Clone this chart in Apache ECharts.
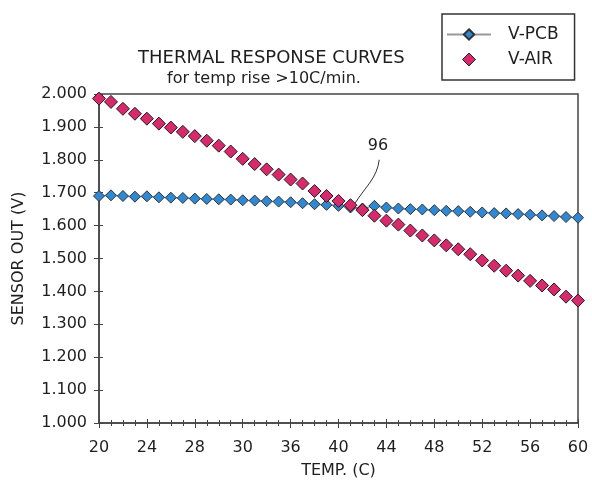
<!DOCTYPE html>
<html>
<head>
<meta charset="utf-8">
<script src="https://cdn.jsdelivr.net/npm/echarts@6/dist/echarts.min.js"></script>
<style>
  html, body { margin: 0; padding: 0; background: #fff; }
  #main { width: 592px; height: 481px; }
</style>
</head>
<body>
<div id="main"></div>
<script>
// temperatures (C), one reading per degree
var temps = [];
for (var t = 20; t <= 60; t++) temps.push(t);

// sensor output (V)
var vPcb = [1.690, 1.692, 1.690, 1.688, 1.689, 1.686, 1.685, 1.684, 1.682, 1.681,
            1.680, 1.679, 1.677, 1.676, 1.674, 1.673, 1.671, 1.668, 1.665, 1.663,
            1.660, 1.655, 1.652, 1.660, 1.655, 1.652, 1.650, 1.649, 1.647, 1.645,
            1.644, 1.642, 1.640, 1.638, 1.637, 1.635, 1.633, 1.631, 1.629, 1.626,
            1.624];
var vAir = [1.986, 1.976, 1.955, 1.940, 1.925, 1.910, 1.898, 1.885, 1.872, 1.858,
            1.843, 1.825, 1.803, 1.787, 1.771, 1.755, 1.740, 1.728, 1.705, 1.690,
            1.675, 1.662, 1.647, 1.630, 1.615, 1.603, 1.585, 1.570, 1.555, 1.540,
            1.528, 1.513, 1.494, 1.478, 1.463, 1.448, 1.432, 1.418, 1.406, 1.384,
            1.372];

// x tick labels as printed (every 4 degrees)
var xTickLabels = ['20', '24', '28', '30', '36', '40', '44', '48', '52', '56', '60'];

function pairs(ys) {
  return temps.map(function (x, i) { return [x, ys[i]]; });
}

var FONT = 'DejaVu Sans, sans-serif';
var INK = '#1e1e1e';
var chart = echarts.init(document.getElementById('main'));

var option = {
  animation: false,
  backgroundColor: '#fff',
  title: [
    { text: 'THERMAL RESPONSE CURVES', left: 133, top: 44,
      textStyle: { fontFamily: FONT, fontSize: 18, fontWeight: 'normal', color: INK } },
    { text: 'for temp rise >10C/min.', left: 162, top: 66,
      textStyle: { fontFamily: FONT, fontSize: 16, fontWeight: 'normal', color: INK } }
  ],
  legend: {
    orient: 'vertical',
    left: 442, top: 14,
    padding: [12, 16, 12, 4],
    itemGap: 8,
    itemWidth: 44, itemHeight: 13,
    borderColor: '#333', borderWidth: 1.5,
    textStyle: { fontFamily: FONT, fontSize: 17, color: INK, padding: [0, 0, 0, 12] },
    data: [
      { name: 'V-PCB' },
      { name: 'V-AIR', icon: 'path://M0,-1L1,0L0,1L-1,0Z',
        itemStyle: { borderColor: '#222', borderWidth: 1 } }
    ]
  },
  grid: {
    left: 99, right: 14, top: 94, bottom: 58,
    outerBoundsMode: 'none', containLabel: false,
    show: true, borderColor: '#444', borderWidth: 1.5
  },
  xAxis: [{
    type: 'value', min: 20, max: 60, interval: 4,
    name: 'TEMP. (C)', nameLocation: 'middle', nameGap: 40,
    nameTextStyle: { fontFamily: FONT, fontSize: 16, color: INK },
    axisLine: { lineStyle: { color: '#444', width: 1.5 } },
    axisTick: { length: 5, lineStyle: { color: '#444' } },
    minorTick: { show: true, splitNumber: 4, length: 3, lineStyle: { color: '#444' } },
    splitLine: { show: false },
    axisLabel: {
      fontFamily: FONT, fontSize: 16, color: INK, margin: 17,
      formatter: function (v) { return xTickLabels[Math.round((v - 20) / 4)]; }
    }
  }, {
    type: 'value', min: 20, max: 60, interval: 4, position: 'bottom',
    axisLine: { show: false },
    axisTick: { inside: true, length: 4, lineStyle: { color: '#444' } },
    minorTick: { show: true, splitNumber: 4, length: 3, lineStyle: { color: '#444' } },
    axisLabel: { show: false }, splitLine: { show: false }
  }],
  yAxis: [{
    type: 'value', min: 1, max: 2, interval: 0.1,
    name: 'SENSOR OUT (V)', nameLocation: 'middle', nameGap: 72,
    nameTextStyle: { fontFamily: FONT, fontSize: 16, color: INK },
    axisLine: { show: true, lineStyle: { color: '#444', width: 1.5 } },
    axisTick: { show: true, length: 5, lineStyle: { color: '#444' } },
    splitLine: { show: false },
    axisLabel: {
      fontFamily: FONT, fontSize: 16, color: INK, margin: 12,
      formatter: function (v) { return v.toFixed(3); }
    }
  }, {
    type: 'value', min: 1, max: 2, interval: 0.1, position: 'left',
    axisLine: { show: false },
    axisTick: { show: true, inside: true, length: 4, lineStyle: { color: '#444' } },
    axisLabel: { show: false }, splitLine: { show: false }
  }],
  series: [
    {
      name: 'V-PCB', type: 'line', data: pairs(vPcb),
      symbol: 'diamond', symbolSize: 11,
      itemStyle: { color: '#2f88d4', borderColor: '#333', borderWidth: 1 },
      lineStyle: { color: '#999', width: 1.5 }
    },
    {
      name: 'V-AIR', type: 'line', data: pairs(vAir),
      symbol: 'diamond', symbolSize: 13,
      itemStyle: { color: '#d62a6c', borderColor: '#2a1a20', borderWidth: 1 },
      lineStyle: { width: 0, opacity: 0 }
    }
  ]
};
chart.setOption(option);

// callout "96" with its leader line, placed in data coordinates
var lbl = chart.convertToPixel({ gridIndex: 0 }, [43.3, 1.842]);
var p0 = chart.convertToPixel({ gridIndex: 0 }, [43.4, 1.800]);
var p1 = chart.convertToPixel({ gridIndex: 0 }, [41.4, 1.669]);
chart.setOption({
  graphic: [
    { type: 'text', x: lbl[0], y: lbl[1],
      style: { text: '96', fontFamily: FONT, fontSize: 16, fill: INK, align: 'center', verticalAlign: 'middle' } },
    { type: 'bezierCurve', z: 100,
      shape: { x1: p0[0], y1: p0[1], x2: p1[0], y2: p1[1],
               cpx1: p0[0] - 2, cpy1: p0[1] + 18, cpx2: p1[0] + 10, cpy2: p1[1] - 16 },
      style: { stroke: '#333', lineWidth: 1, fill: null } }
  ]
});
</script>
</body>
</html>
